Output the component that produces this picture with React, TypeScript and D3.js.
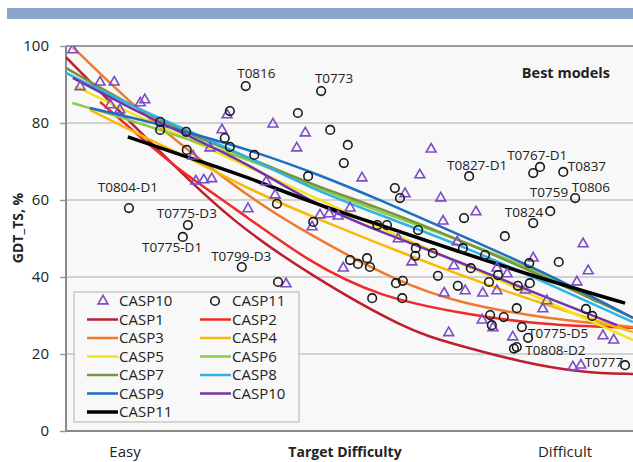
import React, { useEffect, useRef } from "react"
import * as d3 from "d3"

// x = target rank from easy (0) to difficult (100), y = GDT_TS %
const casp1 = [[0, 97.1], [9.5, 82.9], [19.8, 67.8], [29.5, 54.3], [43.0, 40.5], [60.1, 26.2], [67.7, 22.9], [80.1, 17.9], [91.2, 15.1], [100, 14.8]]
const casp2 = [[6.0, 85.5], [13.1, 76.4], [19.8, 67.8], [29.5, 58.2], [43.0, 43.6], [55.4, 34.8], [69.5, 30.6], [83.6, 27.5], [100, 26.8]]
const casp3 = [[1.2, 99.7], [11.3, 85.2], [21.9, 72.5], [32.5, 60.5], [43.0, 50.9], [58.9, 38.4], [69.5, 33.2], [83.6, 29.4], [100, 27.0]]
const casp4 = [[4.2, 83.4], [14.8, 75.6], [23.6, 69.6], [32.5, 62.6], [44.8, 54.8], [58.9, 46.5], [69.5, 40.5], [83.6, 33.2], [100, 25.7]]
const casp5 = [[1.6, 89.6], [11.3, 82.6], [21.9, 75.6], [32.5, 68.3], [43.0, 61.3], [55.4, 52.7], [69.5, 43.6], [83.6, 34.5], [100, 23.6]]
const casp6 = [[1.1, 85.2], [11.3, 80.8], [21.9, 75.6], [32.5, 70.4], [43.0, 63.9], [55.4, 56.9], [69.5, 49.6], [83.6, 41.3], [93.7, 33.5]]
const casp7 = [[0, 94.3], [11.3, 84.7], [21.9, 76.9], [32.5, 70.9], [43.0, 64.2], [55.4, 57.9], [69.5, 49.6], [83.6, 40.5], [100, 29.4]]
const casp8 = [[0, 93.0], [11.3, 84.7], [21.9, 77.7], [32.5, 70.9], [43.0, 63.1], [55.4, 56.1], [69.5, 48.3], [83.6, 39.2], [100, 28.3]]
const casp9 = [[4.2, 83.9], [14.8, 80.3], [21.9, 77.4], [32.5, 73.0], [44.8, 66.5], [55.4, 60.0], [69.5, 50.9], [83.6, 41.8], [100, 29.4]]
const casp10 = [[1.2, 91.7], [11.3, 83.9], [21.9, 76.4], [32.5, 69.1], [43.0, 59.5], [55.4, 51.7], [69.5, 43.9], [83.6, 35.3], [97.2, 27.5]]
const casp11 = [[10.9, 76.4], [21.9, 70.9], [32.5, 65.7], [43.0, 59.5], [55.4, 53.5], [69.5, 46.5], [83.6, 39.7], [98.6, 33.2]]

// best models per target
const casp10Points = [
  [1.2, 99.0], [2.5, 89.4], [6.0, 90.6], [8.5, 90.6], [7.8, 84.7], [9.5, 83.4], [13.1, 85.2], [13.9, 86.0],
  [27.5, 78.2], [28.4, 82.1], [22.4, 71.4], [25.4, 73.5], [22.9, 64.9], [24.3, 65.2], [25.7, 65.5],
  [36.5, 79.7], [42.2, 77.4], [40.7, 73.5], [35.3, 64.7], [36.9, 61.3], [32.1, 57.7], [52.2, 65.7],
  [59.8, 61.6], [62.4, 66.5], [64.4, 73.2], [66.1, 60.5], [72.3, 56.9], [66.5, 54.5],
  [44.8, 56.1], [46.4, 56.4], [48.0, 55.8], [50.1, 57.9], [43.4, 53.0], [58.6, 49.9], [61.0, 43.9],
  [68.4, 42.9], [48.9, 42.3], [66.7, 35.8], [69.0, 49.1], [38.8, 38.2], [91.2, 48.6], [92.1, 41.6],
  [90.1, 38.7], [82.4, 44.9], [76.0, 42.3], [77.8, 40.8], [70.4, 36.4], [73.5, 35.8], [76.0, 36.4],
  [81.0, 36.6], [84.1, 31.7], [84.8, 33.8], [67.5, 25.5], [73.4, 28.8], [75.3, 26.8], [78.8, 24.4],
  [94.7, 24.7], [96.6, 23.6], [89.4, 16.6], [90.8, 17.1]
]
const casp11Points = [
  [16.6, 80.3], [16.6, 78.2], [21.2, 77.7], [21.3, 73.0], [11.1, 57.9], [21.5, 53.5], [20.6, 50.4],
  [31.0, 42.6], [31.7, 89.6], [45.0, 88.3], [28.9, 83.1], [40.9, 82.6], [46.6, 78.2], [49.7, 74.3],
  [49.0, 69.6], [28.0, 76.1], [28.9, 73.8], [33.2, 71.7], [42.7, 66.2], [37.2, 59.0], [58.0, 63.1],
  [58.9, 60.5], [43.6, 54.3], [37.4, 38.7], [54.9, 53.5], [56.6, 53.5], [62.1, 52.2], [61.7, 47.5],
  [61.6, 45.5], [64.7, 46.2], [50.1, 44.4], [51.5, 43.4], [53.1, 44.9], [53.6, 42.6], [58.2, 38.4],
  [59.4, 39.0], [65.6, 40.3], [69.1, 37.7], [54.0, 34.5], [59.3, 34.5], [71.1, 66.2], [82.4, 67.0],
  [83.6, 68.6], [87.7, 67.3], [89.8, 60.5], [70.2, 55.3], [85.4, 57.1], [82.4, 54.0], [77.4, 50.6],
  [86.9, 43.9], [81.7, 43.6], [73.9, 45.7], [70.0, 47.5], [71.4, 42.3], [76.2, 40.5], [74.6, 38.7],
  [79.7, 37.7], [81.8, 38.4], [79.5, 31.9], [74.8, 30.1], [77.2, 29.6], [75.1, 27.5], [80.4, 27.0],
  [81.5, 24.2], [79.5, 21.8], [79.0, 21.4], [98.6, 17.1], [91.7, 31.7], [92.8, 29.9]
]

// named targets: text, x, y (chart units, left edge / middle of text)
const targetLabels = [
  ["T0816", 30.2, 93.0], ["T0773", 43.9, 91.7], ["T0804-D1", 5.6, 63.4], ["T0775-D3", 16.0, 56.6],
  ["T0775-D1", 13.4, 47.8], ["T0799-D3", 25.6, 45.5], ["T0827-D1", 67.2, 69.1], ["T0767-D1", 77.8, 71.7],
  ["T0837", 88.5, 68.8], ["T0759", 81.8, 62.1], ["T0806", 89.2, 63.4], ["T0824", 77.4, 56.9],
  ["T0775-D5", 81.5, 25.4], ["T0808-D2", 81.0, 21.0], ["T0777", 91.5, 17.9]
]

const yTicks = [0, 20, 40, 60, 80, 100]

const fits = [
  { name: "CASP1", color: "#be1e2d", data: casp1 },
  { name: "CASP2", color: "#ee2a2a", data: casp2 },
  { name: "CASP3", color: "#ed7a2e", data: casp3 },
  { name: "CASP4", color: "#f9b90a", data: casp4 },
  { name: "CASP5", color: "#f2e41a", data: casp5 },
  { name: "CASP6", color: "#8ccb4a", data: casp6 },
  { name: "CASP7", color: "#76953d", data: casp7 },
  { name: "CASP8", color: "#2fb2e6", data: casp8 },
  { name: "CASP9", color: "#1f6ec0", data: casp9 },
  { name: "CASP10", color: "#7434a6", data: casp10 },
  { name: "CASP11", color: "#000000", data: casp11 }
]

const font = "'Open Sans', 'Liberation Sans', sans-serif"

function App() {
  const ref = useRef(null)

  useEffect(() => {
    const svg = d3.select(ref.current)
    svg.selectAll("*").remove()

    const left = 66
    const top = 46
    const right = 633
    const bottom = 431
    const x = d3.scaleLinear().domain([0, 100]).range([left, right])
    const y = d3.scaleLinear().domain([0, 100]).range([bottom, top])

    // banner at top
    svg.append("rect").attr("x", 7).attr("y", 8).attr("width", 626).attr("height", 11).attr("fill", "#8ba6cc")

    svg.append("rect")
      .attr("x", left).attr("y", top).attr("width", right - left).attr("height", bottom - top)
      .attr("fill", "#f8f8f8")

    svg.append("clipPath").attr("id", "plot-clip")
      .append("rect").attr("x", left).attr("y", top).attr("width", right - left).attr("height", bottom - top)

    // grid
    svg.append("g").selectAll("line").data(yTicks.filter(d => d > 0)).enter().append("line")
      .attr("x1", left).attr("x2", right)
      .attr("y1", d => y(d)).attr("y2", d => y(d))
      .attr("stroke", d => d === 100 ? "#9a9a9a" : "#c4c4c4")
      .attr("stroke-width", d => d === 100 ? 2 : 1.5)

    // y axis
    const yAxis = svg.append("g").attr("transform", "translate(" + left + ",0)")
      .call(d3.axisLeft(y).tickValues(yTicks).tickSize(6).tickPadding(11))
    yAxis.select(".domain").remove()
    yAxis.selectAll(".tick line").attr("stroke", "#999").attr("stroke-width", 1.5)
    yAxis.selectAll(".tick text").attr("font-family", font).attr("font-size", 15).attr("fill", "#222")

    svg.append("line").attr("x1", left).attr("x2", left).attr("y1", top).attr("y2", bottom)
      .attr("stroke", "#8a8a8a").attr("stroke-width", 2)
    svg.append("line").attr("x1", left).attr("x2", right).attr("y1", bottom).attr("y2", bottom)
      .attr("stroke", "#8a8a8a").attr("stroke-width", 2)

    const plot = svg.append("g").attr("clip-path", "url(#plot-clip)")

    // trend lines, smoothed through the read-off points
    const line = d3.line().x(d => x(d[0])).y(d => y(d[1])).curve(d3.curveBasis)
    plot.selectAll("path.fit").data(fits).enter().append("path")
      .attr("class", "fit")
      .attr("d", d => line(d.data))
      .attr("fill", "none")
      .attr("stroke", d => d.color)
      .attr("stroke-width", d => d.name === "CASP11" ? 3.5 : 2.5)

    const tri = d3.symbol().type(d3.symbolTriangle).size(42)
    plot.selectAll("path.tri").data(casp10Points).enter().append("path")
      .attr("class", "tri")
      .attr("d", tri)
      .attr("transform", d => "translate(" + x(d[0]) + "," + y(d[1]) + ")")
      .attr("fill", "none").attr("stroke", "#7b4cc4").attr("stroke-width", 1.6)

    plot.selectAll("circle").data(casp11Points).enter().append("circle")
      .attr("cx", d => x(d[0])).attr("cy", d => y(d[1])).attr("r", 4.3)
      .attr("fill", "none").attr("stroke", "#1a1a1a").attr("stroke-width", 1.6)

    svg.append("g").selectAll("text").data(targetLabels).enter().append("text")
      .attr("x", d => x(d[1])).attr("y", d => y(d[2]))
      .attr("dy", "0.35em")
      .attr("font-family", font).attr("font-size", 13.5).attr("fill", "#222")
      .text(d => d[0])

    svg.append("text").attr("x", 610).attr("y", 73).attr("dy", "0.35em").attr("text-anchor", "end")
      .attr("font-family", font).attr("font-size", 14.5).attr("font-weight", "bold").attr("fill", "#222")
      .text("Best models")

    // legend
    const lg = svg.append("g")
    lg.append("rect").attr("x", 74).attr("y", 292).attr("width", 225).attr("height", 130)
      .attr("fill", "#f8f8f8").attr("stroke", "#bdbdbd").attr("stroke-width", 1.2)
    const legendItems = [
      { name: "CASP10", kind: "tri", color: "" }, { name: "CASP11", kind: "circle", color: "" }
    ].concat(fits.map(f => ({ name: f.name, kind: "line", color: f.color })))
    legendItems.forEach((item, i) => {
      const col = i % 2
      const row = Math.floor(i / 2)
      const cy = 301 + row * 18.5
      const lx = col === 0 ? 87 : 200
      const tx = col === 0 ? 119 : 232
      if (item.kind === "tri") {
        lg.append("path").attr("d", tri).attr("transform", "translate(" + (lx + 16) + "," + cy + ")")
          .attr("fill", "none").attr("stroke", "#7b4cc4").attr("stroke-width", 1.6)
      } else if (item.kind === "circle") {
        lg.append("circle").attr("cx", lx + 15).attr("cy", cy).attr("r", 4.3)
          .attr("fill", "none").attr("stroke", "#1a1a1a").attr("stroke-width", 1.6)
      } else {
        lg.append("line").attr("x1", lx).attr("x2", lx + 31).attr("y1", cy).attr("y2", cy)
          .attr("stroke", item.color).attr("stroke-width", item.name === "CASP11" ? 3.5 : 2.5)
      }
      lg.append("text").attr("x", tx).attr("y", cy).attr("dy", "0.35em")
        .attr("font-family", font).attr("font-size", 15).attr("fill", "#222")
        .text(item.name)
    })

    // axis titles
    svg.append("text").attr("x", 125).attr("y", 452).attr("dy", "0.35em").attr("text-anchor", "middle")
      .attr("font-family", font).attr("font-size", 15).attr("fill", "#222").text("Easy")
    svg.append("text").attr("x", 345).attr("y", 452).attr("dy", "0.35em").attr("text-anchor", "middle")
      .attr("font-family", font).attr("font-size", 14).attr("font-weight", "bold").attr("fill", "#222")
      .text("Target Difficulty")
    svg.append("text").attr("x", 565).attr("y", 452).attr("dy", "0.35em").attr("text-anchor", "middle")
      .attr("font-family", font).attr("font-size", 15).attr("fill", "#222").text("Difficult")
    svg.append("text").attr("transform", "translate(18,228) rotate(-90)").attr("dy", "0.35em")
      .attr("text-anchor", "middle")
      .attr("font-family", font).attr("font-size", 14).attr("font-weight", "bold").attr("fill", "#222")
      .text("GDT_TS, %")
  }, [])

  return <svg ref={ref} width={633} height={462} style={{ position: "absolute", left: 0, top: 0, background: "#fff" }} />
}

export default App
